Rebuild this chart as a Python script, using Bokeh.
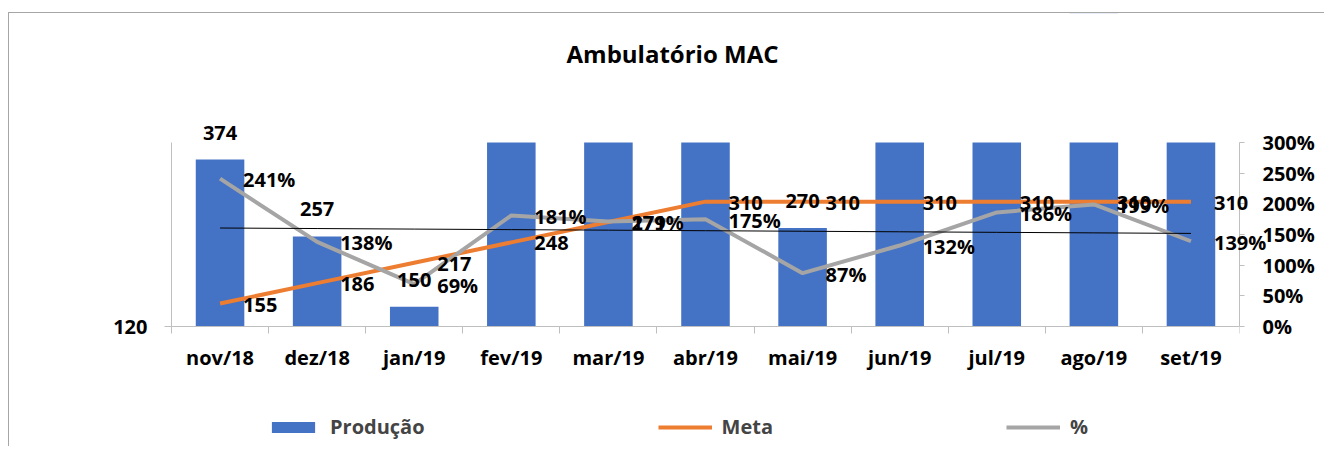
import numpy as np
from bokeh.plotting import figure
from bokeh.models import (Range1d, LinearAxis, FixedTicker, ColumnDataSource,
                          Legend, LegendItem, BoxAnnotation, Label)
from bokeh.core.properties import value
from bokeh.embed import file_html
from bokeh.resources import INLINE

# ---- data ----
months = ["nov/18", "dez/18", "jan/19", "fev/19", "mar/19", "abr/19",
          "mai/19", "jun/19", "jul/19", "ago/19", "set/19"]
producao = [374, 257, 150, 449, 477, 543, 270, 409, 577, 617, 431]
meta = [155, 186, 217, 248, 279, 310, 310, 310, 310, 310, 310]
pct = [241, 138, 69, 181, 171, 175, 87, 132, 186, 199, 139]
left_ticks = [120]
left_min, left_max = 120, 400
pct_ticks = [0, 50, 100, 150, 200, 250, 300]
title = "Ambulatório MAC"

# ---- layout (canvas pixels) ----
W, H = 1316, 434
PL, PR, PT, PB = 162, 1230, 129, 313   # plot area edges
TITLE_X, TITLE_Y = 663, 40

FONT = "Open Sans"
BLUE = "#4472C4"
ORANGE = "#ED7D31"
GRAY = "#A5A5A5"
AXIS = "#BFBFBF"

n = len(months)
x = list(range(n))
x0, x1 = -0.5, n - 0.5
ppx = (PR - PL) / (x1 - x0)
ppl = (PB - PT) / (left_max - left_min)
ppp = (PB - PT) / (pct_ticks[-1] - pct_ticks[0])
xr = Range1d(x0 - PL / ppx, x1)
yr = Range1d(left_min - (H - PB) / ppl, left_max + PT / ppl)
pr = Range1d(pct_ticks[0] - (H - PB) / ppp, pct_ticks[-1] + PT / ppp)

src = ColumnDataSource(dict(
    x=x, prod=producao, meta=meta, pct=pct,
    meta_txt=[str(v) for v in meta],
    pct_txt=[f"{v}%" for v in pct],
))
vis = [i for i in x if producao[i] <= left_max]
bar_lbl = ColumnDataSource(dict(x=vis, y=[producao[i] for i in vis],
                                t=[str(producao[i]) for i in vis]))
coef = np.polyfit(x, pct, 1)
trend = np.polyval(coef, x)

p = figure(width=W, height=H, x_range=xr, y_range=yr, output_backend="svg",
           toolbar_location=None, min_border=0, min_border_right=W - PR)
p.extra_y_ranges = {"pct": pr}
p.styles = {"border-left": "1px solid #a6a6a6", "border-top": "1px solid #a6a6a6",
            "margin-top": "12px", "margin-left": "8px"}
p.outline_line_color = None
p.xgrid.visible = False
p.ygrid.visible = False
p.title.visible = False

bars = p.vbar(x="x", top="prod", bottom=left_min, width=0.5, source=src,
              fill_color=BLUE, line_color=None)
# plot-area top edge: bars taller than the axis maximum are cut there
p.renderers.append(BoxAnnotation(bottom=left_max, top=2 * max(producao),
                                 fill_color="white", fill_alpha=1,
                                 line_color=None, level="glyph"))
lmeta = p.line("x", "meta", source=src, line_color=ORANGE, line_width=4)
lpct = p.line("x", "pct", source=src, line_color=GRAY, line_width=4,
              y_range_name="pct")
p.line(x, trend, line_color="black", line_width=1, y_range_name="pct")

lbl_common = dict(text_font=value(FONT), text_font_style="bold",
                  text_font_size="20px", text_color="black", level="overlay")
p.text(x="x", y="y", text="t", source=bar_lbl, text_align="center",
       text_baseline="bottom", y_offset=-20, **lbl_common)
p.text(x="x", y="meta", text="meta_txt", source=src, text_align="left",
       text_baseline="middle", x_offset=23, y_offset=1, **lbl_common)
p.text(x="x", y="pct", text="pct_txt", source=src, text_align="left",
       text_baseline="middle", x_offset=23, y_offset=1, y_range_name="pct",
       **lbl_common)

p.add_layout(Label(x=TITLE_X, y=H - TITLE_Y, x_units="screen", y_units="screen",
                   text=title, text_align="center", text_baseline="middle",
                   text_font=FONT, text_font_style="bold", text_font_size="24px",
                   text_color="black"))

# axes
ax = p.xaxis[0]
ax.fixed_location = left_min
ax.bounds = (x0, x1)
ax.ticker = FixedTicker(ticks=x, minor_ticks=[i - 0.5 for i in range(n + 1)])
ax.major_label_overrides = {i: m for i, m in zip(x, months)}
ax.major_tick_out = 0
ax.major_tick_in = 0
ax.minor_tick_out = 7
ax.minor_tick_in = 0
ax.minor_tick_line_color = AXIS
ax.axis_line_color = AXIS
ax.major_label_standoff = 10

ay = p.yaxis[0]
ay.fixed_location = x0
ay.bounds = (left_min, left_max)
ay.ticker = FixedTicker(ticks=left_ticks)
ay.major_tick_out = 7
ay.major_tick_in = 0
ay.minor_tick_line_color = None
ay.major_tick_line_color = AXIS
ay.axis_line_color = AXIS
ay.major_label_standoff = 17

ar = LinearAxis(y_range_name="pct", ticker=FixedTicker(ticks=pct_ticks),
                major_label_overrides={t: f"{t}%" for t in pct_ticks},
                bounds=(pct_ticks[0], pct_ticks[-1]))
ar.major_tick_out = 5
ar.major_tick_in = 0
ar.minor_tick_line_color = None
ar.major_tick_line_color = AXIS
ar.axis_line_color = AXIS
ar.major_label_standoff = 18
p.add_layout(ar, "right")

for a in (ax, ay, ar):
    a.major_label_text_font = FONT
    a.major_label_text_font_style = "bold"
    a.major_label_text_font_size = "20px"
    a.major_label_text_color = "black"

legend = Legend(items=[LegendItem(label="Produção", renderers=[bars]),
                       LegendItem(label="Meta", renderers=[lmeta]),
                       LegendItem(label="%", renderers=[lpct])],
                orientation="horizontal", location=(257, 7), spacing=233,
                glyph_width=54, glyph_height=14, label_standoff=10, padding=0,
                margin=0, border_line_color=None, background_fill_alpha=0,
                label_text_font=FONT, label_text_font_style="bold",
                label_text_font_size="20px")
p.add_layout(legend)

open("out.html", "w").write(file_html(p, INLINE))
